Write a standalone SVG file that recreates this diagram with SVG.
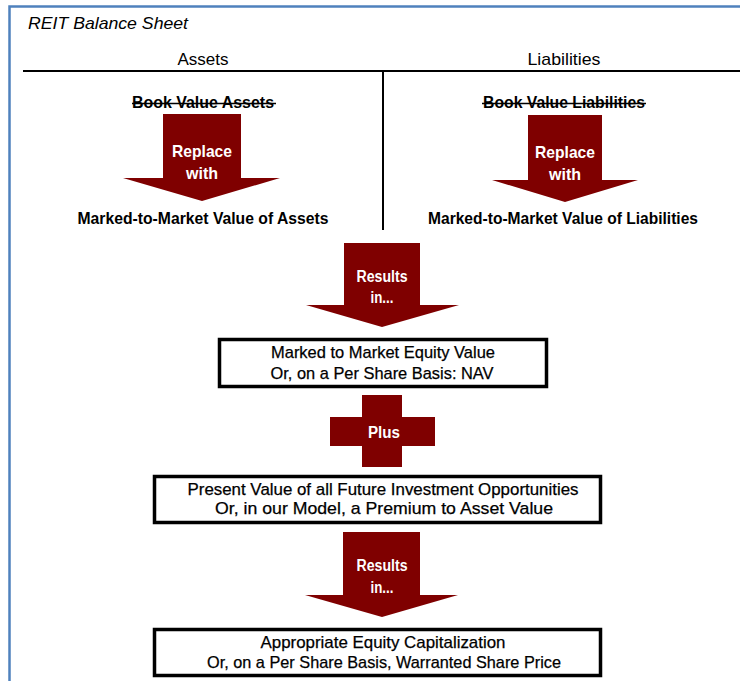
<svg xmlns="http://www.w3.org/2000/svg" width="740" height="681" viewBox="0 0 740 681">
<style>
  .t { font-family: "Liberation Sans", Arial, sans-serif; fill: #000; }
  .hdr { font-size: 17px; text-anchor: middle; }
  .bold { font-weight: bold; }
  .lbl { font-family: "Liberation Sans", Arial, sans-serif; font-weight: bold; fill: #fff; text-anchor: middle; }
  .arrow { fill: #7f0000; }
  .box { fill: #fff; stroke: #000; stroke-width: 3.5; }
  .btxt { font-size: 17px; text-anchor: middle; stroke: #000; stroke-width: 0.25; }
</style>
<rect x="0" y="0" width="740" height="681" fill="#fff"/>
<!-- frame -->
<path d="M9.5,681 V6.5 H740" fill="none" stroke="#4f81bd" stroke-width="2.5"/>
<text class="t" x="28" y="29" font-size="17" font-style="italic" textLength="160" lengthAdjust="spacingAndGlyphs">REIT Balance Sheet</text>
<!-- T-account lines -->
<g id="connectors">
  <line x1="23" y1="71" x2="740" y2="71" stroke="#000" stroke-width="2"/>
  <line x1="383" y1="71" x2="383" y2="230" stroke="#000" stroke-width="2"/>
</g>
<g id="assets">
  <text class="t hdr" x="203" y="65" textLength="51" lengthAdjust="spacingAndGlyphs">Assets</text>
  <text class="t hdr bold" x="203" y="108" font-size="16" textLength="142" lengthAdjust="spacingAndGlyphs">Book Value Assets</text>
  <line x1="132" y1="103.5" x2="276" y2="103.5" stroke="#000" stroke-width="1.5"/>
  <polygon class="arrow" points="163,114 241,114 241,178 280,178 202,201 123,178 163,178"/>
  <text class="lbl" x="202" y="157" font-size="17" textLength="60" lengthAdjust="spacingAndGlyphs">Replace</text>
  <text class="lbl" x="202" y="179" font-size="17" textLength="32" lengthAdjust="spacingAndGlyphs">with</text>
  <text class="t hdr bold" x="203" y="224" textLength="251" lengthAdjust="spacingAndGlyphs">Marked-to-Market Value of Assets</text>
</g>
<g id="liabilities">
  <text class="t hdr" x="564" y="65" textLength="73" lengthAdjust="spacingAndGlyphs">Liabilities</text>
  <text class="t hdr bold" x="564" y="108" font-size="16" textLength="162" lengthAdjust="spacingAndGlyphs">Book Value Liabilities</text>
  <line x1="482" y1="103.5" x2="646" y2="103.5" stroke="#000" stroke-width="1.5"/>
  <polygon class="arrow" points="528,115 602,115 602,180 638,180 565,202 492,180 528,180"/>
  <text class="lbl" x="565" y="158" font-size="17" textLength="60" lengthAdjust="spacingAndGlyphs">Replace</text>
  <text class="lbl" x="565" y="180" font-size="17" textLength="32" lengthAdjust="spacingAndGlyphs">with</text>
  <text class="t hdr bold" x="563" y="224" textLength="270" lengthAdjust="spacingAndGlyphs">Marked-to-Market Value of Liabilities</text>
</g>
<g id="results1">
  <polygon class="arrow" points="344,243 420,243 420,305 459,305 382,327 306,305 344,305"/>
  <text class="lbl" x="382" y="282" font-size="16" textLength="51" lengthAdjust="spacingAndGlyphs">Results</text>
  <text class="lbl" x="382" y="303" font-size="16" textLength="23" lengthAdjust="spacingAndGlyphs">in...</text>
</g>
<g id="equity">
  <rect class="box" x="219.5" y="339.5" width="327" height="47"/>
  <text class="t btxt" x="383" y="358" textLength="224" lengthAdjust="spacingAndGlyphs">Marked to Market Equity Value</text>
  <text class="t btxt" x="382" y="379" textLength="223" lengthAdjust="spacingAndGlyphs">Or, on a Per Share Basis: NAV</text>
</g>
<g id="plus">
  <path class="arrow" d="M362,395 H402 V417 H435 V446 H402 V467 H362 V446 H330 V417 H362 Z"/>
  <text class="lbl" x="384" y="438" font-size="16" textLength="32" lengthAdjust="spacingAndGlyphs">Plus</text>
</g>
<g id="opportunities">
  <rect class="box" x="154.5" y="476.5" width="446" height="46"/>
  <text class="t btxt" x="383" y="495" textLength="391" lengthAdjust="spacingAndGlyphs">Present Value of all Future Investment Opportunities</text>
  <text class="t btxt" x="384" y="514" textLength="338" lengthAdjust="spacingAndGlyphs">Or, in our Model, a Premium to Asset Value</text>
</g>
<g id="results2">
  <polygon class="arrow" points="343,532 420,532 420,595 458,595 382,617 305,595 343,595"/>
  <text class="lbl" x="382" y="571" font-size="16" textLength="51" lengthAdjust="spacingAndGlyphs">Results</text>
  <text class="lbl" x="382" y="593" font-size="16" textLength="23" lengthAdjust="spacingAndGlyphs">in...</text>
</g>
<g id="capitalization">
  <rect class="box" x="154.5" y="629.5" width="446" height="46"/>
  <text class="t btxt" x="383" y="648" textLength="245" lengthAdjust="spacingAndGlyphs">Appropriate Equity Capitalization</text>
  <text class="t btxt" x="384" y="668" textLength="354" lengthAdjust="spacingAndGlyphs">Or, on a Per Share Basis, Warranted Share Price</text>
</g>
</svg>
